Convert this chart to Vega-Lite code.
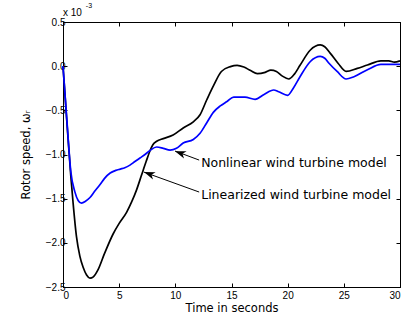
{
  "$schema": "https://vega.github.io/schema/vega-lite/v6.json",
  "width": 337,
  "height": 265,
  "autosize": {"type": "none"},
  "padding": {"left": 63, "top": 22, "right": 3, "bottom": 35},
  "background": "white",
  "config": {
    "view": {"stroke": "black", "strokeWidth": 1},
    "axis": {"grid": false, "domainColor": "black", "tickColor": "black", "labelColor": "black", "titleColor": "black", "labelFont": "Liberation Sans", "labelFontSize": 10, "titleFont": "DejaVu Sans", "titleFontSize": 11.5, "titleFontWeight": "normal"}
  },
  "datasets": {
    "curves": [
      {"t": 0, "v": 0, "series": "Linearized"},
      {"t": 0.35, "v": -0.64, "series": "Linearized"},
      {"t": 0.7, "v": -1.25, "series": "Linearized"},
      {"t": 0.9, "v": -1.55, "series": "Linearized"},
      {"t": 1.2, "v": -1.93, "series": "Linearized"},
      {"t": 1.5, "v": -2.15, "series": "Linearized"},
      {"t": 1.8, "v": -2.28, "series": "Linearized"},
      {"t": 2.1, "v": -2.365, "series": "Linearized"},
      {"t": 2.4, "v": -2.4, "series": "Linearized"},
      {"t": 2.7, "v": -2.385, "series": "Linearized"},
      {"t": 3.1, "v": -2.31, "series": "Linearized"},
      {"t": 3.7, "v": -2.12, "series": "Linearized"},
      {"t": 4.46, "v": -1.9, "series": "Linearized"},
      {"t": 5.0, "v": -1.78, "series": "Linearized"},
      {"t": 5.66, "v": -1.655, "series": "Linearized"},
      {"t": 6.1, "v": -1.54, "series": "Linearized"},
      {"t": 6.55, "v": -1.4, "series": "Linearized"},
      {"t": 7.0, "v": -1.23, "series": "Linearized"},
      {"t": 7.4, "v": -1.08, "series": "Linearized"},
      {"t": 7.74, "v": -0.96, "series": "Linearized"},
      {"t": 8.0, "v": -0.89, "series": "Linearized"},
      {"t": 8.34, "v": -0.85, "series": "Linearized"},
      {"t": 8.93, "v": -0.82, "series": "Linearized"},
      {"t": 9.8, "v": -0.78, "series": "Linearized"},
      {"t": 10.7, "v": -0.7, "series": "Linearized"},
      {"t": 11.6, "v": -0.63, "series": "Linearized"},
      {"t": 12.2, "v": -0.55, "series": "Linearized"},
      {"t": 12.8, "v": -0.38, "series": "Linearized"},
      {"t": 13.4, "v": -0.22, "series": "Linearized"},
      {"t": 14.1, "v": -0.06, "series": "Linearized"},
      {"t": 14.9, "v": -0.005, "series": "Linearized"},
      {"t": 15.5, "v": 0.01, "series": "Linearized"},
      {"t": 16.1, "v": -0.01, "series": "Linearized"},
      {"t": 16.7, "v": -0.05, "series": "Linearized"},
      {"t": 17.3, "v": -0.085, "series": "Linearized"},
      {"t": 18.0, "v": -0.07, "series": "Linearized"},
      {"t": 18.5, "v": -0.045, "series": "Linearized"},
      {"t": 19.0, "v": -0.06, "series": "Linearized"},
      {"t": 19.5, "v": -0.11, "series": "Linearized"},
      {"t": 20.1, "v": -0.145, "series": "Linearized"},
      {"t": 20.6, "v": -0.09, "series": "Linearized"},
      {"t": 21.1, "v": 0.01, "series": "Linearized"},
      {"t": 22.0, "v": 0.18, "series": "Linearized"},
      {"t": 22.9, "v": 0.24, "series": "Linearized"},
      {"t": 23.3, "v": 0.22, "series": "Linearized"},
      {"t": 23.8, "v": 0.145, "series": "Linearized"},
      {"t": 24.5, "v": 0.03, "series": "Linearized"},
      {"t": 25.2, "v": -0.06, "series": "Linearized"},
      {"t": 26.2, "v": -0.025, "series": "Linearized"},
      {"t": 27.1, "v": 0.013, "series": "Linearized"},
      {"t": 28.3, "v": 0.06, "series": "Linearized"},
      {"t": 29.0, "v": 0.06, "series": "Linearized"},
      {"t": 29.5, "v": 0.045, "series": "Linearized"},
      {"t": 30, "v": 0.06, "series": "Linearized"},
      {"t": 0, "v": 0, "series": "Nonlinear"},
      {"t": 0.35, "v": -0.62, "series": "Nonlinear"},
      {"t": 0.7, "v": -1.2, "series": "Nonlinear"},
      {"t": 1.05, "v": -1.42, "series": "Nonlinear"},
      {"t": 1.35, "v": -1.52, "series": "Nonlinear"},
      {"t": 1.64, "v": -1.55, "series": "Nonlinear"},
      {"t": 2.0, "v": -1.53, "series": "Nonlinear"},
      {"t": 2.38, "v": -1.49, "series": "Nonlinear"},
      {"t": 2.8, "v": -1.42, "series": "Nonlinear"},
      {"t": 3.3, "v": -1.34, "series": "Nonlinear"},
      {"t": 3.7, "v": -1.27, "series": "Nonlinear"},
      {"t": 4.2, "v": -1.21, "series": "Nonlinear"},
      {"t": 4.7, "v": -1.18, "series": "Nonlinear"},
      {"t": 5.1, "v": -1.165, "series": "Nonlinear"},
      {"t": 5.5, "v": -1.15, "series": "Nonlinear"},
      {"t": 5.96, "v": -1.12, "series": "Nonlinear"},
      {"t": 6.4, "v": -1.08, "series": "Nonlinear"},
      {"t": 6.85, "v": -1.04, "series": "Nonlinear"},
      {"t": 7.3, "v": -1.0, "series": "Nonlinear"},
      {"t": 7.74, "v": -0.955, "series": "Nonlinear"},
      {"t": 8.34, "v": -0.915, "series": "Nonlinear"},
      {"t": 8.93, "v": -0.93, "series": "Nonlinear"},
      {"t": 9.53, "v": -0.95, "series": "Nonlinear"},
      {"t": 10.1, "v": -0.93, "series": "Nonlinear"},
      {"t": 10.7, "v": -0.87, "series": "Nonlinear"},
      {"t": 11.6, "v": -0.83, "series": "Nonlinear"},
      {"t": 12.2, "v": -0.76, "series": "Nonlinear"},
      {"t": 12.8, "v": -0.64, "series": "Nonlinear"},
      {"t": 13.4, "v": -0.52, "series": "Nonlinear"},
      {"t": 14.0, "v": -0.45, "series": "Nonlinear"},
      {"t": 14.6, "v": -0.4, "series": "Nonlinear"},
      {"t": 15.2, "v": -0.35, "series": "Nonlinear"},
      {"t": 16.2, "v": -0.35, "series": "Nonlinear"},
      {"t": 17.1, "v": -0.375, "series": "Nonlinear"},
      {"t": 17.9, "v": -0.32, "series": "Nonlinear"},
      {"t": 18.75, "v": -0.27, "series": "Nonlinear"},
      {"t": 19.2, "v": -0.29, "series": "Nonlinear"},
      {"t": 20.0, "v": -0.33, "series": "Nonlinear"},
      {"t": 20.5, "v": -0.25, "series": "Nonlinear"},
      {"t": 21.1, "v": -0.12, "series": "Nonlinear"},
      {"t": 22.0, "v": 0.05, "series": "Nonlinear"},
      {"t": 22.9, "v": 0.11, "series": "Nonlinear"},
      {"t": 23.3, "v": 0.09, "series": "Nonlinear"},
      {"t": 23.7, "v": 0.03, "series": "Nonlinear"},
      {"t": 24.4, "v": -0.06, "series": "Nonlinear"},
      {"t": 25.2, "v": -0.145, "series": "Nonlinear"},
      {"t": 25.9, "v": -0.12, "series": "Nonlinear"},
      {"t": 27.1, "v": -0.04, "series": "Nonlinear"},
      {"t": 28.3, "v": 0.02, "series": "Nonlinear"},
      {"t": 29.0, "v": 0.02, "series": "Nonlinear"},
      {"t": 30, "v": 0.02, "series": "Nonlinear"}
    ],
    "arrows": [
      {"label": "Nonlinear wind turbine model", "t0": 12.12, "v0": -1.063, "t1": 9.97, "v1": -0.961, "th": 10.43, "vh": -0.983, "tl": 12.3, "vl": -1.097},
      {"label": "Linearized wind turbine model", "t0": 12.12, "v0": -1.425, "t1": 7.2, "v1": -1.199, "th": 7.67, "vh": -1.22, "tl": 12.3, "vl": -1.459}
    ],
    "exponent": [
      {"txt": "x 10", "t": 0.0, "v": 0.605},
      {"txt": "-3", "t": 2.03, "v": 0.68}
    ]
  },
  "resolve": {"axis": {"x": "independent", "y": "independent"}},
  "layer": [
    {
      "data": {"name": "curves"},
      "mark": {"type": "line", "strokeWidth": 1.7, "interpolate": "monotone"},
      "encoding": {
        "x": {"field": "t", "type": "quantitative", "scale": {"domain": [0, 30], "nice": false, "zero": false},
              "axis": {"orient": "bottom", "values": [0, 5, 10, 15, 20, 25, 30], "tickSize": -4, "labelPadding": 7, "title": "Time in seconds", "titlePadding": 2, "titleFontWeight": 400}},
        "y": {"field": "v", "type": "quantitative", "scale": {"domain": [-2.5, 0.5], "nice": false, "zero": false},
              "axis": {"orient": "left", "values": [-2.5, -2, -1.5, -1, -0.5, 0, 0.5], "tickSize": -4, "labelPadding": 2, "title": "Rotor speed, ωᵣ", "titlePadding": 14, "titleFontWeight": 400}},
        "color": {"field": "series", "type": "nominal", "scale": {"domain": ["Linearized", "Nonlinear"], "range": ["#000000", "#0000FF"]}, "legend": null},
        "detail": {"field": "series"}
      }
    },
    {
      "data": {"name": "arrows"},
      "mark": {"type": "rule", "color": "black", "strokeWidth": 1},
      "encoding": {
        "x": {"field": "t0", "type": "quantitative", "scale": {"domain": [0, 30], "nice": false, "zero": false}, "axis": null},
        "y": {"field": "v0", "type": "quantitative", "scale": {"domain": [-2.5, 0.5], "nice": false, "zero": false}, "axis": null},
        "x2": {"field": "t1"},
        "y2": {"field": "v1"}
      }
    },
    {
      "data": {"name": "arrows"},
      "mark": {"type": "point", "shape": "M0,-1L0.7,1L0,0.45L-0.7,1Z", "filled": true, "color": "black", "size": 120, "angle": 290, "opacity": 1},
      "encoding": {
        "x": {"field": "th", "type": "quantitative", "scale": {"domain": [0, 30], "nice": false, "zero": false},
              "axis": {"orient": "top", "values": [0, 5, 10, 15, 20, 25, 30], "tickSize": -4, "labels": false, "title": null}},
        "y": {"field": "vh", "type": "quantitative", "scale": {"domain": [-2.5, 0.5], "nice": false, "zero": false},
              "axis": {"orient": "right", "values": [-2.5, -2, -1.5, -1, -0.5, 0, 0.5], "tickSize": -4, "labels": false, "title": null}}
      }
    },
    {
      "data": {"name": "arrows"},
      "mark": {"type": "text", "align": "left", "baseline": "middle", "font": "DejaVu Sans", "fontSize": 12.5, "color": "black"},
      "encoding": {
        "x": {"field": "tl", "type": "quantitative", "scale": {"domain": [0, 30], "nice": false, "zero": false}, "axis": null},
        "y": {"field": "vl", "type": "quantitative", "scale": {"domain": [-2.5, 0.5], "nice": false, "zero": false}, "axis": null},
        "text": {"field": "label"}
      }
    },
    {
      "data": {"name": "exponent"},
      "mark": {"type": "text", "align": "left", "baseline": "middle", "font": "Liberation Sans", "fontSize": 10, "color": "black"},
      "encoding": {
        "x": {"field": "t", "type": "quantitative", "scale": {"domain": [0, 30], "nice": false, "zero": false}, "axis": null},
        "y": {"field": "v", "type": "quantitative", "scale": {"domain": [-2.5, 0.5], "nice": false, "zero": false}, "axis": null},
        "text": {"field": "txt"},
        "size": {"condition": {"test": "datum.txt === '-3'", "value": 7}, "value": 10}
      }
    }
  ]
}
